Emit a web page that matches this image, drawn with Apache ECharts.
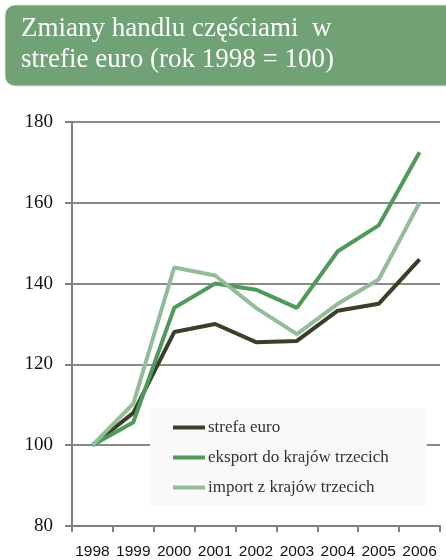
<!DOCTYPE html>
<html>
<head>
<meta charset="utf-8">
<script src="https://cdn.jsdelivr.net/npm/echarts@6/dist/echarts.min.js"></script>
<style>
  html, body { margin: 0; padding: 0; background: #fff; }
  #chart { width: 446px; height: 560px; }
</style>
</head>
<body>
<div id="chart"></div>
<script>
// data
var years = ['1998', '1999', '2000', '2001', '2002', '2003', '2004', '2005', '2006']
var strefaEuro = [100, 108, 128, 130, 125.5, 125.8, 133.3, 135, 146]
var eksport = [100, 105.7, 134, 140, 138.5, 134, 148, 154.4, 172.5]
var importZ = [100, 110.3, 144, 142, 134, 127.5, 135, 141, 160]
var seriesNames = ['strefa euro', 'eksport do krajów trzecich', 'import z krajów trzecich']
var colors = ['#3e3d29', '#4f9a5a', '#95bc99']

var chart = echarts.init(document.getElementById('chart'))

function lineSeries(name, data, color) {
  return {
    name: name,
    type: 'line',
    data: data,
    symbol: 'none',
    lineStyle: { color: color, width: 4 },
    itemStyle: { color: color }
  }
}

var option = {
  animation: false,
  backgroundColor: '#fff',
  color: colors,
  graphic: [
    {
      type: 'rect',
      shape: { x: 5, y: 5, width: 460, height: 81, r: 10 },
      style: { fill: '#70a276', stroke: '#d8e4d8', lineWidth: 1 }
    },
    {
      type: 'text',
      left: 21, top: 13,
      style: {
        text: 'Zmiany handlu częściami  w\nstrefie euro (rok 1998 = 100)',
        fill: '#fff',
        font: '27px "Liberation Serif"',
        lineHeight: 31
      }
    }
  ],
  grid: { left: 72, right: 6, top: 122, bottom: 32 },
  legend: {
    orient: 'vertical',
    left: 150, top: 408,
    backgroundColor: '#f9f9f9',
    padding: [11, 38, 10, 23],
    itemGap: 13,
    itemWidth: 32,
    itemHeight: 4,
    icon: 'rect',
    textStyle: { fontFamily: 'Liberation Serif', fontSize: 17, color: '#333', padding: [0, 0, 0, -2] },
    data: seriesNames
  },
  xAxis: {
    type: 'category',
    data: years,
    boundaryGap: true,
    axisLine: { lineStyle: { color: '#808080', width: 2 } },
    axisTick: { show: true, length: 6, lineStyle: { color: '#808080', width: 2 } },
    axisLabel: { interval: 0, hideOverlap: false, margin: 18, color: '#111', fontFamily: 'Liberation Sans', fontSize: 15.5 }
  },
  yAxis: {
    type: 'value',
    min: 80, max: 180, interval: 20,
    axisLine: { show: true, lineStyle: { color: '#808080', width: 2 } },
    axisTick: { show: true, length: 7, lineStyle: { color: '#808080', width: 2 } },
    splitLine: { lineStyle: { color: '#8a8a8a', width: 2 } },
    axisLabel: { margin: 19, color: '#111', fontFamily: 'Liberation Serif', fontSize: 19 }
  },
  series: [
    lineSeries(seriesNames[0], strefaEuro, colors[0]),
    lineSeries(seriesNames[1], eksport, colors[1]),
    lineSeries(seriesNames[2], importZ, colors[2])
  ]
}

chart.setOption(option, true)
</script>
</body>
</html>
